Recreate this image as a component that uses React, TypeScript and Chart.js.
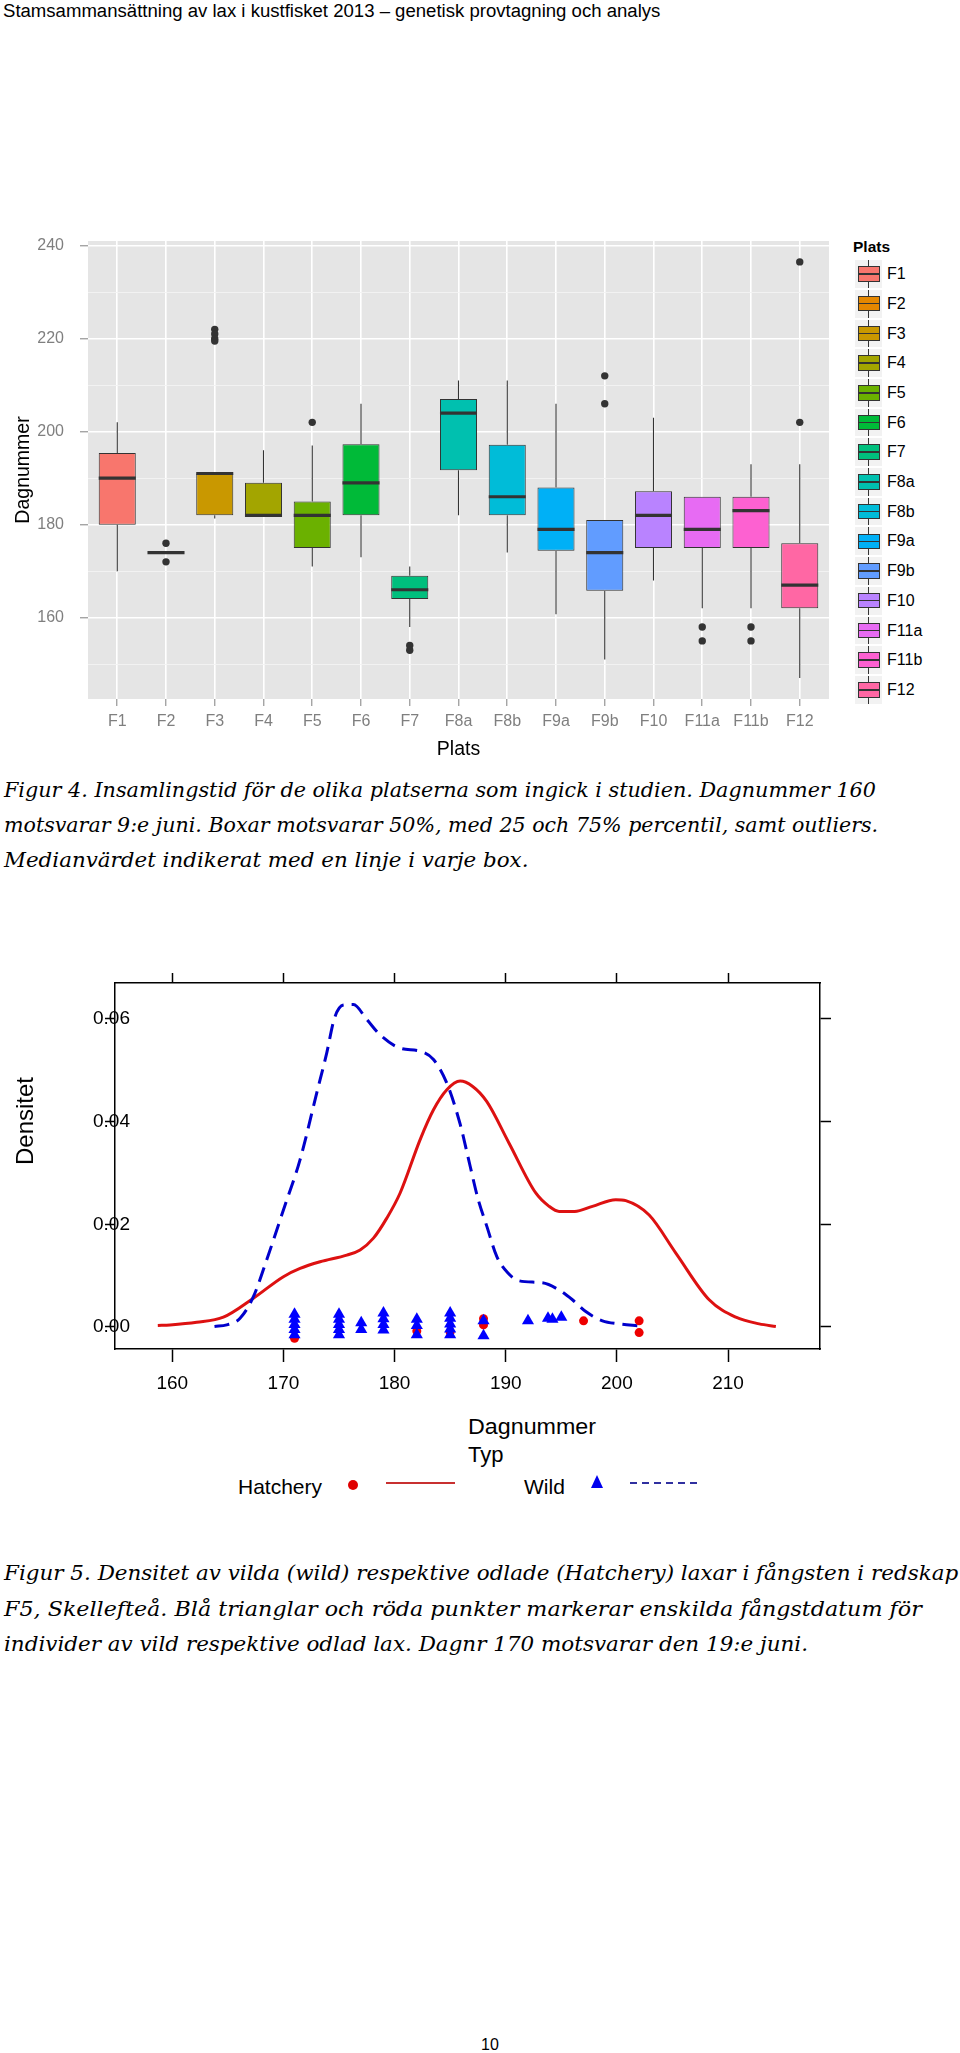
import React, { useEffect, useLayoutEffect, useRef } from 'react';
import { Chart, registerables } from 'chart.js';

Chart.register(...registerables);

const SANS = '"Liberation Sans", Arial, Helvetica, sans-serif';
const SERIF = '"DejaVu Serif", "Liberation Serif", serif';
Chart.defaults.font.family = SANS;

// ---------------- Figure 4 : boxplot ----------------
const plats = ['F1', 'F2', 'F3', 'F4', 'F5', 'F6', 'F7', 'F8a', 'F8b', 'F9a', 'F9b', 'F10', 'F11a', 'F11b', 'F12'];
const platsColors = ['#F8766D', '#E58700', '#C99800', '#A3A500', '#6BB100', '#00BA38', '#00BF7D', '#00C0AF', '#00BCD8', '#00B0F6', '#619CFF', '#B983FF', '#E76BF3', '#FD61D1', '#FF67A4'];
const whiskerLow = [170, 174, 181.3, 182, 171, 173, 158, 182, 174, 160.7, 151, 168, 162, 162, 147];
const quartile1 = [180, 174, 182, 182, 175, 182, 164, 191.7, 182, 174.4, 165.8, 175, 175, 175, 162];
const medians = [190, 174, 191, 182, 182, 189, 166, 204, 186, 179, 174, 182, 179, 183, 167];
const quartile3 = [195.4, 174, 191, 189, 185, 197.3, 169, 207, 197.2, 188, 181, 187.2, 186, 186, 176];
const whiskerHigh = [202, 174, 191, 196, 197, 206, 171, 211, 211, 206, 181, 203, 186, 193, 193];
const outlierPlats = ['F2', 'F2', 'F3', 'F3', 'F3', 'F3', 'F5', 'F7', 'F7', 'F9b', 'F9b', 'F11a', 'F11a', 'F11b', 'F11b', 'F12', 'F12'];
const outlierDays = [176, 172, 222, 221, 220, 219.5, 202, 154, 153, 212, 206, 158, 155, 158, 155, 236.5, 202];
const boxYMajorTicks = [160, 180, 200, 220, 240];
const boxYMinorTicks = [150, 170, 190, 210, 230];

// ---------------- Figure 5 : density ----------------
const densXTicks = [160, 170, 180, 190, 200, 210];
const densYTicks = [0, 0.02, 0.04, 0.06];
const hatcheryDays = [158.7, 159.8, 162.2, 164.6, 167.3, 170.0, 171.5, 173.3, 175.7, 176.9, 178.1, 179.3, 180.5, 182.3, 183.5, 184.7, 185.9, 187.0, 188.3, 190.3, 192.7, 193.9, 194.8, 196.2, 197.8, 199.9, 200.8, 202.9, 205.3, 208.3, 210.7, 212.8, 214.3];
const hatcheryDensity = [0.0003, 0.0004, 0.0009, 0.0019, 0.0056, 0.0098, 0.0114, 0.0127, 0.014, 0.015, 0.0173, 0.0212, 0.0261, 0.0365, 0.0423, 0.0462, 0.0479, 0.0469, 0.0439, 0.0358, 0.0261, 0.0235, 0.0225, 0.0225, 0.0235, 0.0248, 0.0246, 0.0218, 0.0144, 0.0053, 0.0019, 0.0006, 0.0001];
const wildDays = [163.8, 164.9, 166.1, 167.3, 168.5, 170.0, 171.5, 173.0, 173.9, 174.6, 175.4, 176.3, 177.5, 178.7, 180.5, 182.3, 183.5, 184.7, 185.9, 186.8, 187.5, 188.3, 189.2, 190.2, 191.2, 193.3, 194.8, 196.0, 197.2, 198.7, 200.2, 202.0];
const wildDensity = [0.0001, 0.0004, 0.0017, 0.0059, 0.0131, 0.0228, 0.0326, 0.0456, 0.0534, 0.0602, 0.0627, 0.0628, 0.0599, 0.0569, 0.0543, 0.0537, 0.0521, 0.0475, 0.0395, 0.0313, 0.025, 0.0196, 0.0137, 0.0105, 0.009, 0.0086, 0.0072, 0.0053, 0.003, 0.0012, 0.0006, 0.0002];
const wildCatchDays = [171, 171, 171, 171, 171, 175, 175, 175, 175, 175, 177, 177, 179, 179, 179, 179, 182, 182, 182, 185, 185, 185, 185, 185, 188, 188, 192, 193.8, 194.2, 195];
const wildCatchJitter = [0.0025, 0.0015, 0.0005, -0.0005, -0.0015, 0.0025, 0.0015, 0.0005, -0.0005, -0.0015, 0.0008, -0.0005, 0.0027, 0.0016, 0.0005, -0.0006, 0.0015, 0.0003, -0.0015, 0.0027, 0.0017, 0.0006, -0.0004, -0.0015, 0.0012, -0.0017, 0.0012, 0.0017, 0.0015, 0.0019];
const hatcheryCatchDays = [171, 182, 185, 188, 188, 197, 202, 202];
const hatcheryCatchJitter = [-0.0022, -0.0008, -0.001, 0.0016, 0.0004, 0.0012, 0.0012, -0.0011];

type FitProps = {
  text: string; x: number; baseline: number; size: number; family: string;
  width?: number; italic?: boolean; bold?: boolean; color?: string;
};

function FitText({ text, x, baseline, size, family, width, italic, bold, color = '#000' }: FitProps) {
  const ref = useRef<HTMLSpanElement>(null);
  useLayoutEffect(() => {
    const el = ref.current;
    if (!el || !width) return;
    el.style.transform = 'none';
    const w = el.offsetWidth;
    if (w > 0) el.style.transform = `scaleX(${width / w})`;
  }, [text, width, size, family]);
  return (
    <span
      ref={ref}
      style={{
        position: 'absolute', left: x, top: baseline - 0.846 * size,
        fontFamily: family, fontSize: size, lineHeight: `${size}px`,
        fontStyle: italic ? 'italic' : 'normal', fontWeight: bold ? 'bold' : 'normal',
        color, whiteSpace: 'nowrap', transformOrigin: '0 0', display: 'inline-block',
      }}
    >
      {text}
    </span>
  );
}

function BoxChart() {
  const ref = useRef<HTMLCanvasElement>(null);
  useEffect(() => {
    const canvas = ref.current;
    if (!canvas) return;
    const isMajor = (v: any) => boxYMajorTicks.includes(v);
    const boxPlugin: any = {
      id: 'boxExtras',
      beforeDraw(chart: any) {
        const { ctx, chartArea: a } = chart;
        ctx.save();
        ctx.fillStyle = '#e5e5e5';
        ctx.fillRect(a.left, a.top, a.right - a.left, a.bottom - a.top);
        ctx.restore();
      },
      beforeDatasetsDraw(chart: any) {
        const { ctx } = chart;
        const x = chart.scales.x;
        const y = chart.scales.y;
        ctx.save();
        ctx.strokeStyle = '#333333';
        ctx.lineWidth = 1.1;
        plats.forEach((_, i) => {
          const px = x.getPixelForValue(i + 1);
          ctx.beginPath();
          ctx.moveTo(px, y.getPixelForValue(whiskerLow[i]));
          ctx.lineTo(px, y.getPixelForValue(quartile1[i]));
          ctx.moveTo(px, y.getPixelForValue(quartile3[i]));
          ctx.lineTo(px, y.getPixelForValue(whiskerHigh[i]));
          ctx.stroke();
        });
        ctx.restore();
      },
      afterDatasetsDraw(chart: any) {
        const { ctx } = chart;
        const y = chart.scales.y;
        const meta = chart.getDatasetMeta(0);
        ctx.save();
        ctx.strokeStyle = '#333333';
        ctx.lineWidth = 3.2;
        meta.data.forEach((bar: any, i: number) => {
          const py = y.getPixelForValue(medians[i]);
          ctx.beginPath();
          ctx.moveTo(bar.x - bar.width / 2, py);
          ctx.lineTo(bar.x + bar.width / 2, py);
          ctx.stroke();
        });
        ctx.restore();
      },
    };
    const chart = new Chart(canvas, {
      type: 'bar',
      data: {
        datasets: [
          {
            type: 'bar',
            data: plats.map((_, i) => ({ x: i + 1, y: [quartile1[i], quartile3[i]] })),
            backgroundColor: platsColors,
            borderColor: '#333333',
            borderWidth: 1,
            borderSkipped: false,
            categoryPercentage: 1,
            barPercentage: 0.76,
            grouped: false,
          } as any,
          {
            type: 'scatter',
            data: outlierPlats.map((p, i) => ({ x: plats.indexOf(p) + 1, y: outlierDays[i] })),
            pointRadius: 3.7,
            pointBackgroundColor: '#333333',
            pointBorderWidth: 0,
          } as any,
        ],
      },
      options: {
        responsive: false,
        animation: false,
        events: [],
        layout: { padding: { top: 11, right: 11, left: 0, bottom: 0 } },
        plugins: { legend: { display: false }, tooltip: { enabled: false } },
        scales: {
          x: {
            type: 'linear', min: 0.4, max: 15.6, offset: false,
            afterBuildTicks: (s: any) => { s.ticks = plats.map((_, i) => ({ value: i + 1 })); },
            afterFit: (s: any) => { s.height = 76; s.paddingLeft = 0; s.paddingRight = 0; },
            grid: { color: '#ffffff', lineWidth: 1.6, drawTicks: true, tickLength: 7, tickColor: '#7f7f7f', tickWidth: 1, offset: false },
            border: { display: false },
            ticks: { color: '#7f7f7f', font: { size: 16 }, padding: 6, maxRotation: 0, autoSkip: false, callback: (v: any) => plats[Math.round(v) - 1] ?? '' },
            title: { display: true, text: 'Plats', color: '#000', font: { size: 19.5 }, padding: { top: 0, bottom: 14 } },
          },
          y: {
            type: 'linear', min: 142.5, max: 241.0,
            afterBuildTicks: (s: any) => {
              s.ticks = [...boxYMinorTicks, ...boxYMajorTicks].sort((a, b) => a - b).map((v) => ({ value: v }));
            },
            afterFit: (s: any) => { s.width = 88; s.paddingTop = 0; s.paddingBottom = 0; },
            grid: {
              color: (c: any) => (isMajor(c.tick?.value) ? '#ffffff' : '#f3f3f3'),
              lineWidth: (c: any) => (isMajor(c.tick?.value) ? 1.6 : 0.9),
              drawTicks: true, tickLength: 8,
              tickColor: (c: any) => (isMajor(c.tick?.value) ? '#7f7f7f' : 'rgba(0,0,0,0)'),
              tickWidth: 1,
            },
            border: { display: false },
            ticks: { color: '#7f7f7f', font: { size: 16 }, padding: 16, autoSkip: false, callback: (v: any) => (isMajor(v) ? String(v) : '') },
            title: { display: true, text: 'Dagnummer', color: '#000', font: { size: 19.5 }, padding: { top: 12, bottom: 0 } },
          },
        },
      } as any,
      plugins: [boxPlugin],
    });
    return () => chart.destroy();
  }, []);
  return <canvas ref={ref} width={840} height={545} style={{ position: 'absolute', left: 0, top: 230 }} />;
}

function BoxLegend() {
  const step = 29.7;
  return (
    <>
      <FitText text="Plats" x={853} baseline={252} size={15.5} family={SANS} bold />
      {plats.map((p, i) => {
        const center = 274 + i * step;
        const top = center - step / 2;
        return (
          <React.Fragment key={p}>
            <div style={{ position: 'absolute', left: 854, top, width: 29, height: step, background: '#f2f2f2', boxSizing: 'border-box', border: '1px solid #ffffff' }} />
            <div style={{ position: 'absolute', left: 868, top: top + 1, width: 1, height: step - 2, background: '#333333' }} />
            <div style={{ position: 'absolute', left: 857.5, top: center - 7.75, width: 22, height: 15.5, background: platsColors[i], border: '1px solid #333333', boxSizing: 'border-box' }} />
            <div style={{ position: 'absolute', left: 857.5, top: center - 0.75, width: 22, height: 1.5, background: '#333333' }} />
            <FitText text={p} x={887} baseline={center + 5.7} size={16} family={SANS} />
          </React.Fragment>
        );
      })}
    </>
  );
}

function DensityChart() {
  const ref = useRef<HTMLCanvasElement>(null);
  useEffect(() => {
    const canvas = ref.current;
    if (!canvas) return;
    const xMin = 154.85, xMax = 218.27, yMin = -0.00429, yMax = 0.067;
    const tickGrid = (len: number) => ({
      display: true, drawOnChartArea: false, drawTicks: true, tickLength: len,
      tickColor: '#000000', tickWidth: 1.5, color: '#000000',
    });
    const border = { display: true, color: '#000000', width: 1.5 };
    const chart = new Chart(canvas, {
      type: 'scatter',
      data: {
        datasets: [
          {
            type: 'scatter', label: 'Wild',
            data: wildCatchDays.map((d, i) => ({ x: d, y: wildCatchJitter[i] })),
            pointStyle: 'triangle', pointRadius: 7,
            pointBackgroundColor: '#0000ff', pointBorderColor: '#0000ff', pointBorderWidth: 0,
            order: 0,
          } as any,
          {
            type: 'scatter', label: 'Hatchery',
            data: hatcheryCatchDays.map((d, i) => ({ x: d, y: hatcheryCatchJitter[i] })),
            pointStyle: 'circle', pointRadius: 4.5,
            pointBackgroundColor: '#ee0000', pointBorderColor: '#ee0000', pointBorderWidth: 0,
            order: 1,
          } as any,
          {
            type: 'line', label: 'Wild density',
            data: wildDays.map((d, i) => ({ x: d, y: wildDensity[i] })),
            borderColor: '#0000cc', borderWidth: 3, borderDash: [15, 8],
            pointRadius: 0, cubicInterpolationMode: 'monotone', fill: false,
            order: 2,
          } as any,
          {
            type: 'line', label: 'Hatchery density',
            data: hatcheryDays.map((d, i) => ({ x: d, y: hatcheryDensity[i] })),
            borderColor: '#dd1111', borderWidth: 3,
            pointRadius: 0, cubicInterpolationMode: 'monotone', fill: false,
            order: 3,
          } as any,
        ],
      },
      options: {
        responsive: false,
        animation: false,
        events: [],
        layout: { padding: 0 },
        plugins: { legend: { display: false }, tooltip: { enabled: false } },
        scales: {
          x: {
            type: 'linear', position: 'bottom', min: xMin, max: xMax,
            afterBuildTicks: (s: any) => { s.ticks = densXTicks.map((v) => ({ value: v })); },
            afterFit: (s: any) => { s.height = 51; s.paddingLeft = 0; s.paddingRight = 0; },
            grid: tickGrid(13), border,
            ticks: { color: '#000', font: { size: 19 }, padding: 10, maxRotation: 0, autoSkip: false, callback: (v: any) => String(v) },
          },
          xTop: {
            type: 'linear', position: 'top', min: xMin, max: xMax,
            afterBuildTicks: (s: any) => { s.ticks = densXTicks.map((v) => ({ value: v })); },
            afterFit: (s: any) => { s.height = 33; s.paddingLeft = 0; s.paddingRight = 0; },
            grid: tickGrid(10), border,
            ticks: { display: false },
          },
          y: {
            type: 'linear', position: 'left', min: yMin, max: yMax,
            afterBuildTicks: (s: any) => { s.ticks = densYTicks.map((v) => ({ value: v })); },
            afterFit: (s: any) => { s.width = 115; s.paddingTop = 0; s.paddingBottom = 0; },
            grid: tickGrid(10), border,
            ticks: { color: '#000', font: { size: 19 }, mirror: true, padding: -22, autoSkip: false, callback: (v: any) => Number(v).toFixed(2) },
          },
          y2: {
            type: 'linear', position: 'right', min: yMin, max: yMax,
            afterBuildTicks: (s: any) => { s.ticks = densYTicks.map((v) => ({ value: v })); },
            afterFit: (s: any) => { s.width = 140; s.paddingTop = 0; s.paddingBottom = 0; },
            grid: tickGrid(11), border,
            ticks: { display: false },
          },
        },
      } as any,
    });
    return () => chart.destroy();
  }, []);
  return <canvas ref={ref} width={960} height={450} style={{ position: 'absolute', left: 0, top: 950 }} />;
}

function DensityLegend() {
  return (
    <>
      <div
        style={{
          position: 'absolute', left: 25 - 60, top: 1121 - 12, width: 120, height: 24,
          lineHeight: '24px', fontSize: 24, fontFamily: SANS, textAlign: 'center',
          transform: 'rotate(-90deg)', whiteSpace: 'nowrap', color: '#000',
        }}
      >
        Densitet
      </div>
      <FitText text="Dagnummer" x={468} baseline={1435} size={22} family={SANS} width={128} />
      <FitText text="Typ" x={468} baseline={1463} size={22} family={SANS} />
      <FitText text="Hatchery" x={238} baseline={1494} size={21} family={SANS} />
      <div style={{ position: 'absolute', left: 347.7, top: 1480, width: 10, height: 10, borderRadius: '50%', background: '#e00000' }} />
      <div style={{ position: 'absolute', left: 386, top: 1482.3, width: 69, height: 2, background: '#c83030' }} />
      <FitText text="Wild" x={524} baseline={1494} size={21} family={SANS} />
      <div
        style={{
          position: 'absolute', left: 597.3 - 6.5, top: 1475, width: 0, height: 0,
          borderLeft: '6.5px solid transparent', borderRight: '6.5px solid transparent',
          borderBottom: '13px solid #0000ee',
        }}
      />
      <div
        style={{
          position: 'absolute', left: 630, top: 1482.3, width: 68, height: 2,
          background: 'repeating-linear-gradient(to right, #3030a0 0px, #3030a0 7px, transparent 7px, transparent 12px)',
        }}
      />
    </>
  );
}

export default function App() {
  return (
    <div style={{ position: 'absolute', left: 0, top: 0, width: 960, height: 2053, overflow: 'hidden', background: '#ffffff' }}>
      <FitText text="Stamsammansättning av lax i kustfisket 2013 – genetisk provtagning och analys" x={3} baseline={17} size={18} family={SANS} width={657} />
      <BoxChart />
      <BoxLegend />
      <FitText text="Figur 4. Insamlingstid för de olika platserna som ingick i studien. Dagnummer 160" x={4} baseline={798} size={21} family={SERIF} italic width={872} />
      <FitText text="motsvarar 9:e juni. Boxar motsvarar 50%, med 25 och 75% percentil, samt outliers." x={4} baseline={833} size={21} family={SERIF} italic width={874} />
      <FitText text="Medianvärdet indikerat med en linje i varje box." x={4} baseline={868} size={21} family={SERIF} italic width={524} />
      <DensityChart />
      <DensityLegend />
      <FitText text="Figur 5. Densitet av vilda (wild) respektive odlade (Hatchery) laxar i fångsten i redskap" x={4} baseline={1581} size={21} family={SERIF} italic width={954} />
      <FitText text="F5, Skellefteå. Blå trianglar och röda punkter markerar enskilda fångstdatum för" x={4} baseline={1617} size={21} family={SERIF} italic width={918} />
      <FitText text="individer av vild respektive odlad lax. Dagnr 170 motsvarar den 19:e juni." x={4} baseline={1652} size={21} family={SERIF} italic width={804} />
      <div style={{ position: 'absolute', left: 440, width: 100, top: 2051 - 0.846 * 16, fontSize: 16, lineHeight: '16px', fontFamily: SANS, textAlign: 'center', color: '#000' }}>10</div>
    </div>
  );
}
